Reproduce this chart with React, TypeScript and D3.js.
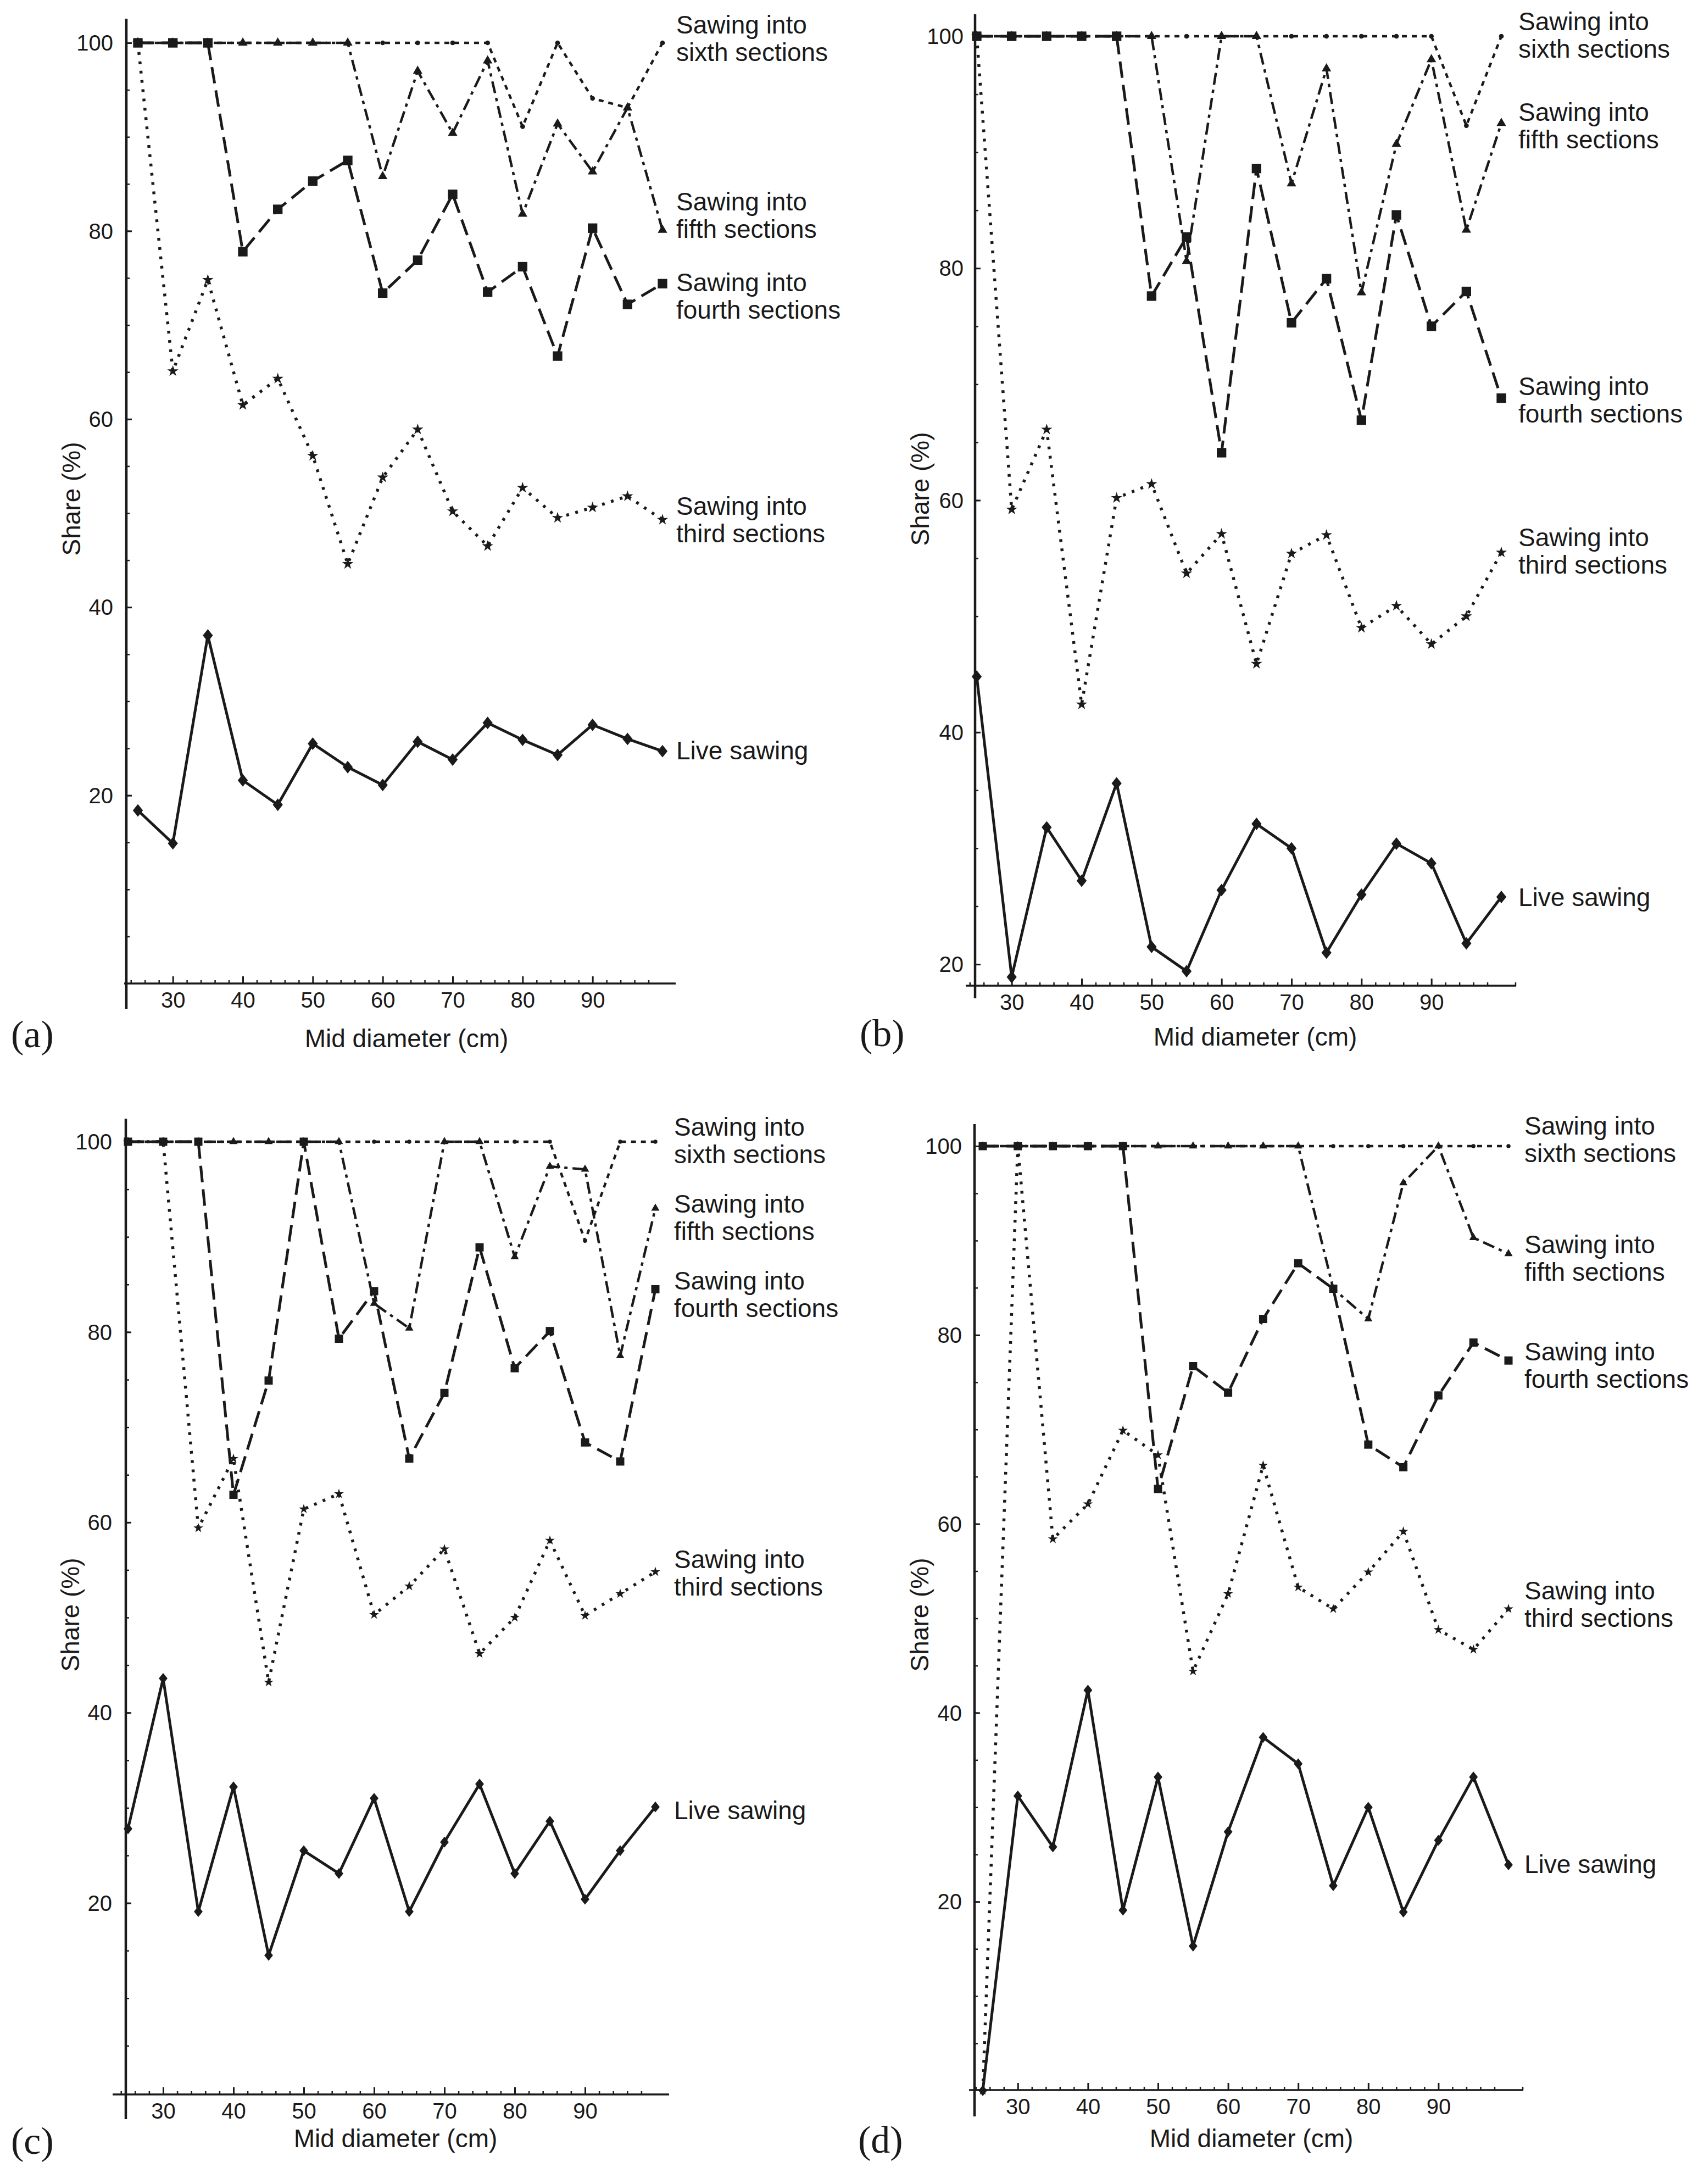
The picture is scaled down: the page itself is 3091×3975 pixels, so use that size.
import * as React from 'react';
import * as d3 from 'd3';

// mid diameter classes (cm)
const diameters = [25, 30, 35, 40, 45, 50, 55, 60, 65, 70, 75, 80, 85, 90, 95, 100];

// (a)
const liveA = [18.4, 14.9, 37.0, 21.6, 19.0, 25.5, 23.0, 21.1, 25.7, 23.8, 27.7, 25.9, 24.3, 27.5, 26.0, 24.7];
const thirdA = [100, 65.1, 74.8, 61.5, 64.3, 56.1, 44.6, 53.8, 58.9, 50.2, 46.5, 52.7, 49.5, 50.6, 51.8, 49.3];
const fourthA = [100, 100, 100, 77.8, 82.3, 85.3, 87.5, 73.4, 76.9, 83.9, 73.5, 76.2, 66.7, 80.3, 72.2, 74.4];
const fifthA = [100, 100, 100, 100, 100, 100, 100, 85.8, 97.0, 90.4, 98.1, 81.8, 91.4, 86.3, 93.1, 80.1];
const sixthA = [100, 100, 100, 100, 100, 100, 100, 100, 100, 100, 100, 91.1, 100, 94.1, 93.1, 100];

// (b)
const liveB = [44.8, 18.9, 31.8, 27.2, 35.6, 21.5, 19.4, 26.4, 32.1, 30.0, 21.0, 26.0, 30.4, 28.7, 21.8, 25.8];
const thirdB = [100, 59.2, 66.1, 42.4, 60.2, 61.4, 53.7, 57.1, 45.9, 55.4, 57.0, 49.0, 50.9, 47.6, 50.0, 55.5];
const fourthB = [100, 100, 100, 100, 100, 77.6, 82.7, 64.1, 88.6, 75.3, 79.1, 66.9, 84.6, 75.0, 78.0, 68.8];
const fifthB = [100, 100, 100, 100, 100, 100, 80.6, 100, 100, 87.3, 97.2, 77.9, 90.7, 98.0, 83.3, 92.5];
const sixthB = [100, 100, 100, 100, 100, 100, 100, 100, 100, 100, 100, 100, 100, 100, 92.3, 100];

// (c)
const liveC = [27.8, 43.6, 19.1, 32.2, 14.5, 25.5, 23.1, 31.0, 19.1, 26.4, 32.5, 23.1, 28.6, 20.4, 25.5, 30.1];
const thirdC = [100, 100, 59.4, 66.7, 43.2, 61.4, 63.0, 50.3, 53.3, 57.2, 46.2, 50.0, 58.1, 50.2, 52.5, 54.8];
const fourthC = [100, 100, 100, 62.9, 74.9, 100, 79.3, 84.3, 66.7, 73.6, 88.9, 76.2, 80.1, 68.4, 66.4, 84.5];
const fifthC = [100, 100, 100, 100, 100, 100, 100, 83.0, 80.4, 100, 100, 87.9, 97.4, 97.1, 77.5, 93.0];
const sixthC = [100, 100, 100, 100, 100, 100, 100, 100, 100, 100, 100, 100, 100, 89.6, 100, 100];

// (d)
const liveD = [0, 31.2, 25.8, 42.4, 19.1, 33.2, 15.3, 27.4, 37.4, 34.6, 21.7, 30.0, 18.9, 26.5, 33.2, 23.9];
const thirdD = [0, 100, 58.4, 62.1, 69.9, 67.3, 44.4, 52.6, 66.2, 53.3, 51.0, 54.9, 59.2, 48.8, 46.7, 51.0];
const fourthD = [100, 100, 100, 100, 100, 63.7, 76.7, 73.9, 81.7, 87.6, 84.9, 68.4, 66.0, 73.6, 79.2, 77.3];
const fifthD = [100, 100, 100, 100, 100, 100, 100, 100, 100, 100, 84.9, 81.7, 96.1, 100, 90.3, 88.6];
const sixthD = [100, 100, 100, 100, 100, 100, 100, 100, 100, 100, 100, 100, 100, 100, 100, 100];

const yTickLabels = [20, 40, 60, 80, 100];
const xTickLabels = [30, 40, 50, 60, 70, 80, 90];

const seriesOrder = ['sixth', 'fifth', 'third', 'fourth', 'live'] as const;
type Key = typeof seriesOrder[number];

const legendText: Record<Key, string[]> = {
  sixth: ['Sawing into', 'sixth sections'],
  fifth: ['Sawing into', 'fifth sections'],
  fourth: ['Sawing into', 'fourth sections'],
  third: ['Sawing into', 'third sections'],
  live: ['Live sawing'],
};

const SANS = '"Liberation Sans", Arial, Helvetica, sans-serif';
const SERIF = '"Liberation Serif", "Times New Roman", serif';
const INK = '#1a1a1a';

// diamond a bit taller than wide, like the printed marker
const diamond = {
  draw(ctx: any, size: number) {
    const w = Math.sqrt(size / 2.5);
    const h = w * 1.25;
    ctx.moveTo(0, -h);
    ctx.lineTo(w, 0);
    ctx.lineTo(0, h);
    ctx.lineTo(-w, 0);
    ctx.closePath();
  },
};

const styles: Record<Key, { dash: string | null; width: number; symbol: any; size: number }> = {
  live: { dash: null, width: 5, symbol: diamond, size: 210 },
  third: { dash: '5 12', width: 5.5, symbol: d3.symbolStar, size: 130 },
  fourth: { dash: '30 13', width: 5, symbol: d3.symbolSquare, size: 300 },
  fifth: { dash: '22 9 6 9', width: 4.5, symbol: d3.symbolTriangle, size: 130 },
  sixth: { dash: '9 9', width: 4.5, symbol: d3.symbolCircle, size: 60 },
};

const panels = [
  {
    tag: '(a)', data: { live: liveA, third: thirdA, fourth: fourthA, fifth: fifthA, sixth: sixthA },
    x25: 251, x100: 1206, yMin: 0, yMinPx: 1790, y100: 78,
    axisX: 230, axisTop: 34, axisBottom: 1836, baseY: 1790, baseLeft: 226, baseRight: 1230,
    gap: 24, legendX: 1231, legendY: { sixth: 61, fifth: 383, fourth: 530, third: 937, live: 1382 },
    shareX: 146, shareY: 908, midX: 740, midY: 1906, tagX: 20, tagY: 1906, mark: 1,
  },
  {
    tag: '(b)', data: { live: liveB, third: thirdB, fourth: fourthB, fifth: fifthB, sixth: sixthB },
    x25: 1778, x100: 2733, yMin: 20, yMinPx: 1755, y100: 66,
    axisX: 1775, axisTop: 26, axisBottom: 1817, baseY: 1794, baseLeft: 1758, baseRight: 2760,
    gap: 21, legendX: 2764, legendY: { sixth: 55, fifth: 220, fourth: 719, third: 994, live: 1649 },
    shareX: 1691, shareY: 890, midX: 2285, midY: 1903, tagX: 1565, tagY: 1904, mark: 1,
  },
  {
    tag: '(c)', data: { live: liveC, third: thirdC, fourth: fourthC, fifth: fifthC, sixth: sixthC },
    x25: 233, x100: 1193, yMin: 0, yMinPx: 3810, y100: 2078,
    axisX: 229, axisTop: 2036, axisBottom: 3857, baseY: 3812, baseLeft: 205, baseRight: 1218,
    gap: 25, legendX: 1227, legendY: { sixth: 2067, fifth: 2207, fourth: 2347, third: 2854, live: 3311 },
    shareX: 144, shareY: 2939, midX: 720, midY: 3908, tagX: 20, tagY: 3920, mark: 0.75,
  },
  {
    tag: '(d)', data: { live: liveD, third: thirdD, fourth: fourthD, fifth: fifthD, sixth: sixthD },
    x25: 1789, x100: 2746, yMin: 0, yMinPx: 3805, y100: 2086,
    axisX: 1774, axisTop: 2046, axisBottom: 3852, baseY: 3804, baseLeft: 1764, baseRight: 2773,
    gap: 23, legendX: 2775, legendY: { sixth: 2065, fifth: 2281, fourth: 2476, third: 2911, live: 3409 },
    shareX: 1690, shareY: 2939, midX: 2278, midY: 3908, tagX: 1562, tagY: 3918, mark: 0.75,
  },
];

type PanelCfg = typeof panels[number];

function drawPanel(svg: d3.Selection<SVGSVGElement, unknown, null, undefined>, p: PanelCfg) {
  const x = d3.scaleLinear().domain([25, 100]).range([p.x25, p.x100]);
  const y = d3.scaleLinear().domain([p.yMin, 100]).range([p.yMinPx, p.y100]);
  const g = svg.append('g');

  // axis lines (they run past each other like in the print)
  g.append('line').attr('x1', p.axisX).attr('x2', p.axisX).attr('y1', p.axisTop).attr('y2', p.axisBottom)
    .attr('stroke', INK).attr('stroke-width', 4.5);
  g.append('line').attr('x1', p.baseLeft).attr('x2', p.baseRight).attr('y1', p.baseY).attr('y2', p.baseY)
    .attr('stroke', INK).attr('stroke-width', 3.5);

  const yMinor = d3.range(5, 101, 5).filter(v => v >= p.yMin);
  g.append('g').attr('transform', `translate(${p.axisX},0)`)
    .call(d3.axisLeft(y).tickValues(yMinor).tickSize(-6).tickFormat(() => '') as any)
    .call(a => a.select('.domain').remove())
    .call(a => a.selectAll('line').attr('stroke', INK).attr('stroke-width', 2.5));
  g.append('g').attr('transform', `translate(${p.axisX},0)`)
    .call(d3.axisLeft(y).tickValues(yTickLabels).tickSize(-10).tickPadding(p.gap).tickFormat(d3.format('d')) as any)
    .call(a => a.select('.domain').remove())
    .call(a => a.selectAll('line').attr('stroke', INK).attr('stroke-width', 3))
    .call(a => a.selectAll('text').attr('font-size', 40).attr('font-family', SANS).attr('fill', INK).attr('dy', '0.34em'));

  const lo = x.invert(p.baseLeft);
  const hi = x.invert(p.baseRight);
  const xMinor = d3.range(24, 104, 2).filter(v => v > lo && v < hi && v % 10 !== 0);
  g.append('g').attr('transform', `translate(0,${p.baseY})`)
    .call(d3.axisBottom(x).tickValues(xMinor).tickSize(-6).tickFormat(() => '') as any)
    .call(a => a.select('.domain').remove())
    .call(a => a.selectAll('line').attr('stroke', INK).attr('stroke-width', 2.5));
  g.append('g').attr('transform', `translate(0,${p.baseY})`)
    .call(d3.axisBottom(x).tickValues(xTickLabels).tickSize(-13).tickPadding(16).tickFormat(d3.format('d')) as any)
    .call(a => a.select('.domain').remove())
    .call(a => a.selectAll('line').attr('stroke', INK).attr('stroke-width', 3))
    .call(a => a.selectAll('text').attr('font-size', 40).attr('font-family', SANS).attr('fill', INK));

  // series
  seriesOrder.forEach(key => {
    const vals = p.data[key];
    const st = styles[key];
    const line = d3.line<number>().x((_, i) => x(diameters[i])).y(d => y(d));
    g.append('path')
      .attr('d', line(vals) || '')
      .attr('fill', 'none')
      .attr('stroke', INK)
      .attr('stroke-width', st.width)
      .attr('stroke-dasharray', st.dash)
      .attr('stroke-linejoin', 'round');
    const sym = d3.symbol().type(st.symbol).size(st.size * p.mark);
    g.append('g').selectAll('path').data(vals).join('path')
      .attr('transform', (d, i) => `translate(${x(diameters[i])},${y(d)})`)
      .attr('d', sym() || '')
      .attr('fill', INK);

    legendText[key].forEach((txt, j) => {
      g.append('text')
        .attr('x', p.legendX)
        .attr('y', p.legendY[key] + j * 50)
        .attr('font-family', SANS)
        .attr('font-size', 46)
        .attr('fill', INK)
        .text(txt);
    });
  });

  g.append('text')
    .attr('transform', `translate(${p.shareX},${p.shareY}) rotate(-90)`)
    .attr('text-anchor', 'middle')
    .attr('font-family', SANS).attr('font-size', 46).attr('fill', INK)
    .text('Share (%)');
  g.append('text')
    .attr('x', p.midX).attr('y', p.midY)
    .attr('text-anchor', 'middle')
    .attr('font-family', SANS).attr('font-size', 46).attr('fill', INK)
    .text('Mid diameter (cm)');
  g.append('text')
    .attr('x', p.tagX).attr('y', p.tagY)
    .attr('font-family', SERIF).attr('font-size', 70).attr('fill', INK)
    .text(p.tag);
}

function SawingFigure() {
  const ref = React.useRef<SVGSVGElement | null>(null);

  React.useEffect(() => {
    if (!ref.current) return;
    const svg = d3.select(ref.current);
    svg.selectAll('*').remove();
    svg.append('rect').attr('width', 3091).attr('height', 3975).attr('fill', '#fff');
    panels.forEach(p => drawPanel(svg as any, p));
  }, []);

  return (
    <svg
      ref={ref}
      width={3091}
      height={3975}
      viewBox="0 0 3091 3975"
      style={{ position: 'absolute', left: 0, top: 0, display: 'block' }}
    />
  );
}

export default function App() {
  return <SawingFigure />;
}
